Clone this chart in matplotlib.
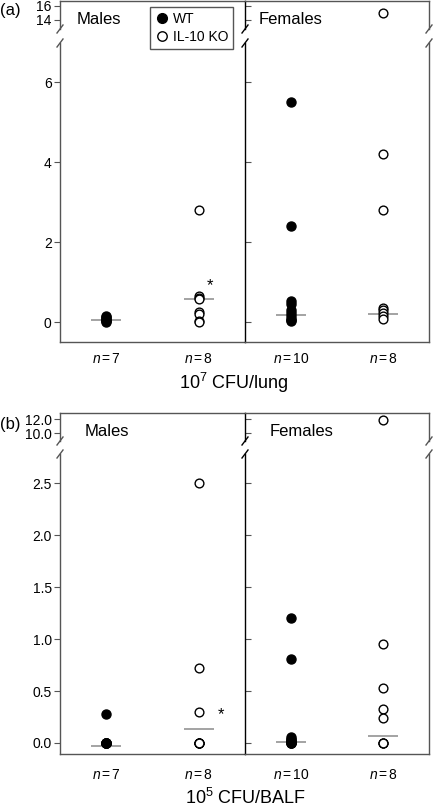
import matplotlib
matplotlib.use("Agg")
import matplotlib.pyplot as plt
from matplotlib.lines import Line2D
import numpy as np

plt.rcParams['font.family'] = ['Liberation Sans', 'DejaVu Sans']
plt.rcParams['mathtext.fontset'] = 'custom'
plt.rcParams['mathtext.rm'] = 'Liberation Sans'
plt.rcParams['mathtext.it'] = 'Liberation Sans:italic'

# ---- data ----
groups = ['Males', 'Females']
n_labels = [[r'$n\,$=$\,$7', r'$n\,$=$\,$8'], [r'$n\,$=$\,$10', r'$n\,$=$\,$8']]

# (a) 10^7 CFU/lung
a_male_wt = [0.0, 0.02, 0.04, 0.06, 0.09, 0.12, 0.14]
a_male_ko = [2.8, 0.64, 0.6, 0.58, 0.25, 0.2, 0.03, 0.0]
a_female_wt = [5.5, 2.4, 0.52, 0.45, 0.3, 0.22, 0.15, 0.08, 0.04, 0.02]
a_female_ko = [15.0, 4.2, 2.8, 0.35, 0.3, 0.22, 0.15, 0.08]
a_medians = [0.04, 0.58, 0.18, 0.2]

# (b) 10^5 CFU/BALF
b_male_wt = [0.28, 0.0, 0.0, 0.0, 0.0, 0.0, 0.0]
b_male_ko = [2.5, 0.72, 0.3, 0.0, 0.0, 0.0, 0.0, 0.0]
b_female_wt = [1.2, 0.81, 0.06, 0.04, 0.03, 0.02, 0.01, 0.0, 0.0, 0.0]
b_female_ko = [11.8, 0.95, 0.53, 0.33, 0.24, 0.0, 0.0, 0.0]
b_medians = [-0.03, 0.13, 0.01, 0.07]

W, H = 434, 810
fig = plt.figure(figsize=(W / 100, H / 100), dpi=100)

GRAY = '#555555'


def rect(x0, x1, ytop, ybot):
    return [x0 / W, 1 - ybot / H, (x1 - x0) / W, (ybot - ytop) / H]


def fig_line(xs, ys, color=GRAY, lw=1.0):
    fig.add_artist(Line2D([x / W for x in xs], [1 - y / H for y in ys],
                          transform=fig.transFigure, color=color, lw=lw))


def make_panel(cfg):
    xcols = [(60, 245), (245, 429)]
    series = cfg['series']
    for c, (x0, x1) in enumerate(xcols):
        up = fig.add_axes(rect(x0, x1, cfg['up_top'], cfg['up_bot']))
        lo = fig.add_axes(rect(x0, x1, cfg['lo_top'], cfg['lo_bot']))
        wt, ko = series[c]
        med = cfg['medians'][2 * c: 2 * c + 2]
        for ax in (up, lo):
            ax.set_xlim(0, 2)
            ax.plot([0.5] * len(wt), wt, 'o', ms=6.5, mfc='black', mec='black', mew=1)
            ax.plot([1.5] * len(ko), ko, 'o', ms=6.3, mfc='white', mec='black', mew=1)
            ax.hlines(med, [0.34, 1.34], [0.66, 1.66], colors='#8a8a8a', lw=1.1, zorder=1)
            ax.tick_params(axis='y', length=4, width=0.8, labelsize=10, pad=2,
                           direction='out' if c == 0 else 'in',
                           labelleft=(c == 0), color=GRAY)
            for s in ax.spines.values():
                s.set_color(GRAY)
                s.set_linewidth(1.0)
            ax.spines['left'].set_color('black' if c == 1 else GRAY)
            ax.spines['right'].set_visible(c == 1)
            ax.patch.set_alpha(0)
        up.set_ylim(*cfg['up_lim'])
        up.set_yticks(cfg['up_ticks'])
        up.set_yticklabels(cfg['up_ticklabels'])
        up.spines['bottom'].set_visible(False)
        up.set_xticks([])
        lo.set_ylim(*cfg['lo_lim'])
        lo.set_yticks(cfg['lo_ticks'])
        lo.set_yticklabels(cfg['lo_ticklabels'])
        lo.spines['top'].set_visible(False)
        lo.set_xticks([0.5, 1.5])
        lo.set_xticklabels(n_labels[c])
        lo.tick_params(axis='x', length=0, labelsize=10, pad=cfg['npad'])
        if c == 0:
            lo.text(cfg['star'][0], cfg['star'][1], '*', fontsize=12,
                    ha='center', va='center')
    # break marks
    for x in (60, 245, 429):
        for y in (cfg['up_bot'], cfg['lo_top']):
            fig_line([x - 3, x + 3], [y + 4, y - 4], color='black' if x == 245 else GRAY)
    fig.text(0 / W, 1 - cfg['tag_y'] / H, cfg['tag'], fontsize=12, va='center', ha='left')
    fig.text(cfg['males_x'] / W, 1 - cfg['sex_y'] / H, 'Males', fontsize=12, va='center')
    fig.text(cfg['females_x'] / W, 1 - cfg['sex_y'] / H, 'Females', fontsize=12, va='center')
    fig.text(cfg['xlabel_x'] / W, 1 - cfg['xlabel_y'] / H, cfg['xlabel'], fontsize=13,
             ha='center', va='center')


make_panel(dict(
    series=[(a_male_wt, a_male_ko), (a_female_wt, a_female_ko)],
    medians=a_medians,
    up_top=1, up_bot=29, lo_top=43, lo_bot=342,
    up_lim=(12.7, 16.7), up_ticks=[14, 16], up_ticklabels=['14', '16'],
    lo_lim=(-0.5, 6.98), lo_ticks=[0, 2, 4, 6], lo_ticklabels=['0', '2', '4', '6'],
    npad=7, star=(1.62, 0.9),
    tag='(a)', tag_y=11, males_x=77, females_x=259, sex_y=20,
    xlabel=r'10$^7$ CFU/lung', xlabel_x=234, xlabel_y=383,
))

make_panel(dict(
    series=[(b_male_wt, b_male_ko), (b_female_wt, b_female_ko)],
    medians=b_medians,
    up_top=413, up_bot=441, lo_top=454, lo_bot=754,
    up_lim=(8.86, 12.86), up_ticks=[10, 12], up_ticklabels=['10.0', '12.0'],
    lo_lim=(-0.106, 2.78), lo_ticks=[0, 0.5, 1.0, 1.5, 2.0, 2.5],
    lo_ticklabels=['0.0', '0.5', '1.0', '1.5', '2.0', '2.5'],
    npad=10, star=(1.74, 0.27),
    tag='(b)', tag_y=424, males_x=85, females_x=270, sex_y=432,
    xlabel=r'10$^5$ CFU/BALF', xlabel_x=246, xlabel_y=798,
))

handles = [Line2D([], [], marker='o', ls='', ms=7, mfc='black', mec='black'),
           Line2D([], [], marker='o', ls='', ms=6.8, mfc='white', mec='black')]
leg = fig.legend(handles, ['WT', 'IL-10 KO'], loc='upper left',
                 bbox_to_anchor=(150 / W, 1 - 7 / H), fontsize=10, frameon=True,
                 fancybox=False, edgecolor=GRAY, framealpha=1,
                 handletextpad=0.3, labelspacing=0.3, borderpad=0.35,
                 handlelength=1.0, borderaxespad=0)
leg.get_frame().set_linewidth(1.0)

fig.savefig('out.png', dpi=100)
